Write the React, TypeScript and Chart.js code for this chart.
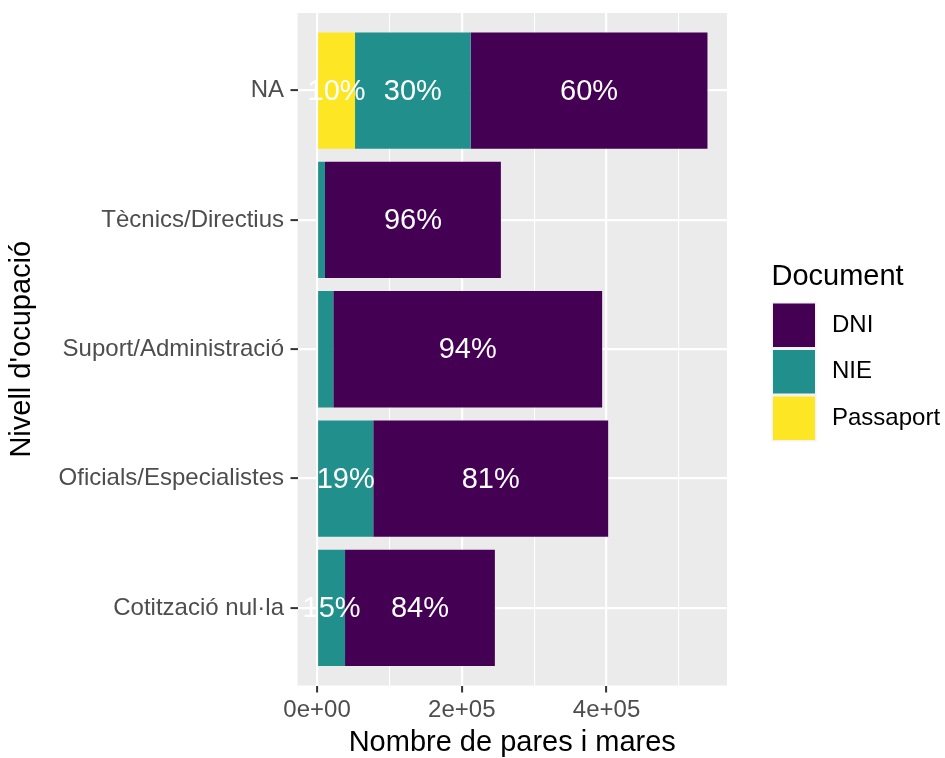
import React, { useEffect, useRef } from 'react';
import { Chart, registerables } from 'chart.js';

Chart.register(...registerables);

const categories = ['NA', 'Tècnics/Directius', 'Suport/Administració', 'Oficials/Especialistes', 'Cotització nul·la'];
const passaportValues = [52500, 0, 0, 0, 0];
const nieValues = [159700, 11000, 22500, 77700, 38700];
const dniValues = [327200, 243000, 371400, 324500, 207000];
const passaportLabels = ['10%', '', '', '', ''];
const nieLabels = ['30%', '', '', '19%', '15%'];
const dniLabels = ['60%', '96%', '94%', '81%', '84%'];
const xTickValues = [0, 100000, 200000, 300000, 400000, 500000];
const xTickLabels = ['0e+00', '', '2e+05', '', '4e+05', ''];
const legendNames = ['DNI', 'NIE', 'Passaport'];
const legendColors = ['#440154', '#21908C', '#FDE725'];

const FONT = '"Liberation Sans", Arial, Helvetica, sans-serif';

const panelBg = {
  id: 'panelBg',
  beforeDraw(chart: any) {
    const { ctx, chartArea } = chart;
    ctx.save();
    ctx.fillStyle = '#EBEBEB';
    ctx.fillRect(chartArea.left, chartArea.top, chartArea.right - chartArea.left, chartArea.bottom - chartArea.top);
    ctx.restore();
  },
};

const barLabels = {
  id: 'barLabels',
  afterDatasetsDraw(chart: any) {
    const ctx = chart.ctx;
    const sets = [passaportLabels, nieLabels, dniLabels];
    ctx.save();
    ctx.font = `29px ${FONT}`;
    ctx.fillStyle = '#FFFFFF';
    ctx.textAlign = 'center';
    ctx.textBaseline = 'middle';
    sets.forEach((labels, di) => {
      const meta = chart.getDatasetMeta(di);
      meta.data.forEach((el: any, j: number) => {
        const t = labels[j];
        if (!t) return;
        const p = el.getProps(['x', 'base', 'y'], true);
        ctx.fillText(t, (p.x + p.base) / 2, p.y + 1);
      });
    });
    ctx.restore();
  },
};

const ggLegend = {
  id: 'ggLegend',
  afterDraw(chart: any) {
    const ctx = chart.ctx;
    const left = 771.5;
    ctx.save();
    ctx.fillStyle = '#000000';
    ctx.font = `29px ${FONT}`;
    ctx.textAlign = 'left';
    ctx.textBaseline = 'alphabetic';
    ctx.fillText('Document', left, 285);
    const key = 46.5;
    const top0 = 302;
    legendNames.forEach((name, i) => {
      const y = top0 + i * key;
      ctx.fillStyle = '#F2F2F2';
      ctx.fillRect(left, y, 45, key);
      ctx.fillStyle = legendColors[i];
      ctx.fillRect(left + 1.5, y + 1.5, 42, key - 3);
      ctx.fillStyle = '#000000';
      ctx.font = `24px ${FONT}`;
      ctx.textBaseline = 'middle';
      ctx.fillText(name, 832, y + key / 2);
    });
    ctx.restore();
  },
};

export default function App() {
  const ref = useRef<HTMLCanvasElement | null>(null);
  useEffect(() => {
    if (!ref.current) return;
    const toData = (vals: number[]) => vals.map((v, i) => ({ x: v, y: i }));
    const chart = new Chart(ref.current, {
      type: 'bar',
      data: {
        datasets: [
          { label: 'Passaport', data: toData(passaportValues) as any, backgroundColor: legendColors[2], borderWidth: 0 },
          { label: 'NIE', data: toData(nieValues) as any, backgroundColor: legendColors[1], borderWidth: 0 },
          { label: 'DNI', data: toData(dniValues) as any, backgroundColor: legendColors[0], borderWidth: 0 },
        ],
      },
      options: {
        indexAxis: 'y',
        responsive: false,
        animation: false,
        events: [],
        categoryPercentage: 1,
        barPercentage: 0.9,
        layout: { padding: { top: 13, right: 218, bottom: 0, left: 0 } },
        plugins: { legend: { display: false }, tooltip: { enabled: false } },
        scales: {
          x: {
            type: 'linear',
            position: 'bottom',
            stacked: true,
            offset: false,
            min: -26970,
            max: 566370,
            afterBuildTicks: (s: any) => { s.ticks = xTickValues.map((v) => ({ value: v })); },
            afterFit: (s: any) => { s.height = 72.5; s.paddingLeft = 0; s.paddingRight = 0; },
            border: { display: false },
            grid: {
              offset: false,
              color: '#FFFFFF',
              lineWidth: (c: any) => (xTickLabels[xTickValues.indexOf(c.tick?.value)] ? 2.2 : 1.1),
              tickColor: (c: any) => (xTickLabels[xTickValues.indexOf(c.tick?.value)] ? '#333333' : 'rgba(0,0,0,0)'),
              tickLength: 7,
              tickWidth: 2,
            },
            ticks: {
              autoSkip: false,
              maxRotation: 0,
              padding: 3,
              color: '#4D4D4D',
              font: { family: FONT, size: 24 },
              callback: (v: any) => xTickLabels[xTickValues.indexOf(v)] ?? '',
            },
            title: {
              display: true,
              text: 'Nombre de pares i mares',
              color: '#000000',
              font: { family: FONT, size: 29, lineHeight: 1 },
              padding: { top: 0, bottom: 1 },
            },
          },
          y: {
            type: 'linear',
            stacked: true,
            reverse: true,
            offset: false,
            min: -0.6,
            max: 4.6,
            afterBuildTicks: (s: any) => { s.ticks = categories.map((_, i) => ({ value: i })); },
            afterFit: (s: any) => { s.width = 297.5; s.paddingTop = 0; s.paddingBottom = 0; },
            border: { display: false },
            grid: {
              offset: false,
              color: '#FFFFFF',
              lineWidth: 2.2,
              tickColor: '#333333',
              tickLength: 7,
              tickWidth: 2,
            },
            ticks: {
              autoSkip: false,
              padding: 6.5,
              color: '#4D4D4D',
              font: { family: FONT, size: 24 },
              callback: (v: any) => categories[v] ?? '',
            },
            title: {
              display: true,
              text: "Nivell d'ocupació",
              color: '#000000',
              font: { family: FONT, size: 29, lineHeight: 1 },
              padding: { top: 7.5, bottom: 0 },
            },
          },
        },
      } as any,
      plugins: [panelBg, barLabels, ggLegend],
    });
    return () => chart.destroy();
  }, []);
  return (
    <div style={{ position: 'absolute', left: 0, top: 0, width: 945, height: 758, background: '#FFFFFF' }}>
      <canvas ref={ref} width={945} height={758} style={{ display: 'block' }} />
    </div>
  );
}
